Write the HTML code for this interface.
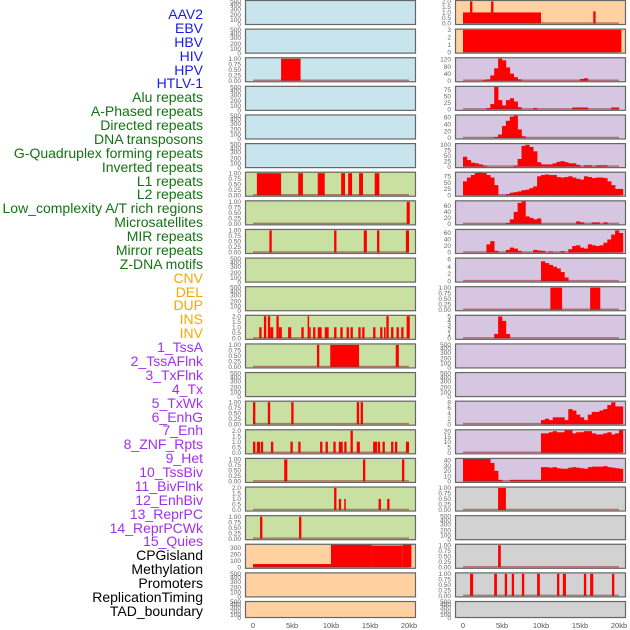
<!DOCTYPE html>
<html><head><meta charset="utf-8"><style>
body{margin:0;width:630px;height:630px;overflow:hidden;background:#fff;font-family:"Liberation Sans",sans-serif}
#lbls{position:absolute;left:0;top:0;width:203px}
.lb{position:absolute;right:0;font-size:14px;line-height:14px;white-space:nowrap;transform:translateY(-50%)}
svg{position:absolute;left:0;top:0}
</style></head><body>
<div id="lbls"></div>
<svg id="chart" width="630" height="630"></svg>
<script>
const labels=["AAV2","EBV","HBV","HIV","HPV","HTLV-1","Alu repeats","A-Phased repeats","Directed repeats","DNA transposons","G-Quadruplex forming repeats","Inverted repeats","L1 repeats","L2 repeats","Low_complexity A/T rich regions","Microsatellites","MIR repeats","Mirror repeats","Z-DNA motifs","CNV","DEL","DUP","INS","INV","1_TssA","2_TssAFlnk","3_TxFlnk","4_Tx","5_TxWk","6_EnhG","7_Enh","8_ZNF_Rpts","9_Het","10_TssBiv","11_BivFlnk","12_EnhBiv","13_ReprPC","14_ReprPCWk","15_Quies","CPGisland","Methylation","Promoters","ReplicationTiming","TAD_boundary"];
const labelGroups=[6,13,5,15,5];
const groupColors=["#1a1aee","#137313","#ffa500","#a030f0","#000000"];
const xTicks=[0,5,10,15,20];
const xTickLabels=["0","5kb","10kb","15kb","20kb"];

// segment data [startKb, endKb, value]
const segL2=[[3.6,6.1,1]];
const segL6=[[0.5,3.6,1],[5.8,6.4,1],[8.3,9.2,1],[11.3,11.8,1],[12.2,12.7,1],[13.6,14.1,1],[15.6,16.2,1]];
const segL7=[[19.7,20.1,1]];
const segL8=[[2.1,2.4,1],[10.4,10.7,1],[14.2,14.6,1],[15.9,16.2,1],[19.6,20.0,1]];
const segL11=[[0.8,1.1,1],[1.4,1.7,2],[1.9,2.2,2],[2.2,2.6,1],[3.0,3.3,2],[3.3,3.7,1],[4.5,4.9,1],[6.2,6.5,1],[7.0,7.2,2],[7.2,7.4,1],[7.7,8.0,1],[8.3,8.8,1],[9.2,9.7,1],[10.4,10.7,1],[11.2,11.5,1],[12.0,12.3,1],[12.5,12.8,1],[13.5,13.8,1],[14.0,14.3,1],[15.4,15.7,1],[16.3,16.6,1],[16.8,17.0,1],[17.1,17.4,2],[17.7,18.0,1],[18.4,18.7,1],[19.0,19.3,1],[19.7,20.1,2]];
const segL12=[[8.2,8.5,1],[9.9,13.6,1],[18.3,18.7,1]];
const segL14=[[0,0.3,1],[1.9,2.2,1],[4.9,5.2,1],[13.3,13.6,1],[13.8,14.1,1]];
const segL15=[[0,0.3,1],[0.5,0.9,1],[1.0,1.3,1],[2.3,2.6,1],[4.8,5.1,1],[5.8,6.1,1],[8.6,8.9,1],[9.3,9.6,1],[10.3,10.6,1],[11.0,11.5,1],[11.7,12.0,1],[12.5,12.8,2],[13.3,13.7,1],[15.4,15.9,1],[16.0,16.3,1],[16.6,16.9,1],[17.7,18.0,1],[18.2,18.5,1],[19.6,20.0,1]];
const segL16=[[4.0,4.4,1],[14.1,14.4,1],[19.1,19.4,1]];
const segL17=[[10.4,10.7,2],[11.0,11.3,1],[11.7,11.9,1],[16.1,16.4,1],[17.2,17.5,1]];
const segL18=[[0.9,1.2,1],[5.9,6.2,1]];
const segL19=[[0,10,50],[10,15.2,350],[15.2,19.2,335],[19.2,20.3,350]];
const segR0=[[0,10,1],[0.9,1.2,2],[3.6,3.9,2],[16.7,17.0,1.1]];
const segR1=[[0,20.3,3]];
const segR10=[[11.2,12.7,1],[16.3,17.6,1]];
const segR17=[[4.5,5.5,1]];
const segR19=[[4.5,4.85,1]];
const segR20=[[0.9,1.3,1],[4.0,4.35,1],[5.35,5.65,1],[6.25,6.55,1],[7.55,7.85,1],[9.5,9.85,1],[12.05,12.35,1],[12.8,13.2,1],[15.5,15.8,1],[16.3,16.7,1],[19.1,19.4,1]];
// binned data (0.5 kb bins from 0 to 20.5 kb)
const binsR2=[0,0,0,0,0,5,8,30,70,125,115,75,40,20,8,0,0,0,0,0,0,0,0,0,0,0,0,0,0,0,10,14,0,0,0,0,0,0,0,0,0];
const binsR3=[0,0,0,0,0,0,5,20,85,35,15,35,42,30,8,0,0,0,5,0,0,0,0,0,0,0,0,0,7,7,7,7,0,0,0,0,0,0,7,7,0];
const binsR4=[0,0,0,0,0,0,0,0,3,10,35,50,62,65,25,5,0,0,0,0,0,0,0,0,0,0,0,0,0,0,0,0,0,0,0,0,0,0,0,0,0];
const binsR5=[45,30,18,15,10,5,0,0,0,0,0,0,0,5,35,95,100,90,70,20,10,10,10,15,22,25,20,15,15,8,0,6,6,0,6,6,6,0,0,0,0];
const binsR6=[55,70,80,88,90,88,80,70,40,0,0,5,10,12,15,20,22,28,35,75,80,82,80,80,72,70,72,75,70,65,62,75,72,68,70,70,68,55,40,25,25];
const binsR7=[0,0,0,0,0,0,0,0,0,0,0,3,15,40,70,75,25,20,15,18,0,0,0,0,0,0,0,0,0,8,5,0,0,5,5,0,5,0,0,0,0];
const binsR8=[0,0,0,0,0,0,25,35,5,0,0,8,15,12,5,0,0,0,8,6,5,0,3,0,0,4,0,10,20,22,15,12,25,22,20,22,30,40,55,68,60];
const binsR9=[0,0,0,0,0,0,0,0,0,0,0,0,0,0,0,0,0,0,0,0,5.5,5,4.5,4,3.5,2.5,1,0,0,0,0,0,0,0,0,0,0,0,0,0,0];
const binsR11=[0,0,0,0,0,0,0,0,1,5,4,1,0,0,0,0,0,0,0,0,0,0,0,0,0,0,0,0,0,0,0,0,0,0,0,0,0,0,0,0,0];
const binsR14=[0,0,0,0,0,0,0,0,0,0,0,0,0,0,0,0,0,0,0,0,1.5,2,1.5,2.5,2.5,2.5,1.5,5.5,5,3.5,2.5,1.5,3.5,4.5,4.5,5,5.5,7,8,6.5,6.5];
const binsR15=[0,0,0,0,0,0,0,0,0,0,0,0,0,0,0,0,0,0,0,0,18,18,19,20,19,19,21,21,18,19,19,20,20,18,17,17,18,19,17,18,21];
const binsR16=[43,43,43,43,43,43,43,35,20,3,0,0,3,3,3,3,3,3,3,3,27,27,26,27,25,24,24,26,27,26,25,24,27,28,28,28,29,27,26,25,24];

const C={b:"#c8e4ec",g:"#c8e0a2",o:"#ffd1a0",p:"#d6c6e2",y:"#d2d2d2"};
const T={
 e:{t:[0,100,200,300,400,500],max:500,custom:[0.02,0.2,0.4,0.63,0.8,0.95]},
 u:{t:[0,0.25,0.5,0.75,1],f:v=>v.toFixed(2),max:1.03},
 two:{t:[0,0.5,1,1.5,2],f:v=>v.toFixed(1),max:2.05}
};
// panels: [col,row,bg,tickSpec,dataName,data,isBins]
const panels=[
 [0,0,"b","e","aav2",null],[0,1,"b","e","ebv",null],[0,2,"b","u","hiv",segL2],[0,3,"b","e","hbv",null],[0,4,"b","e","hpv",null],[0,5,"b","e","htlv",null],
 [0,6,"g","u","l1",segL6],[0,7,"g","u","g7",segL7],[0,8,"g","u","g8",segL8],[0,9,"g","e","g9",null],[0,10,"g","e","g10",null],[0,11,"g","two","g11",segL11],
 [0,12,"g","u","g12",segL12],[0,13,"g","e","g13",null],[0,14,"g","u","g14",segL14],[0,15,"g","two","g15",segL15],[0,16,"g","u","g16",segL16],[0,17,"g","two","g17",segL17],
 [0,18,"g","u","g18",segL18],[0,19,"o",{t:[0,100,200,300],max:350},"o19",segL19],[0,20,"o","e","o20",null],[0,21,"o","e","o21",null],
 [1,0,"o",{t:[0,0.5,1,1.5,2],f:v=>v.toFixed(1),max:2.05},"r0",segR0],[1,1,"o",{t:[0,1,2,3],max:3.05},"r1",segR1],
 [1,2,"p",{t:[0,40,80,120],max:128},"r2",binsR2,1],[1,3,"p",{t:[0,25,50,75],max:86},"r3",binsR3,1],[1,4,"p",{t:[0,20,40,60],max:66},"r4",binsR4,1],
 [1,5,"p",{t:[0,25,50,75,100],max:104},"r5",binsR5,1],[1,6,"p",{t:[0,25,50,75],max:90},"r6",binsR6,1],[1,7,"p",{t:[0,20,40,60],max:76},"r7",binsR7,1],
 [1,8,"p",{t:[0,20,40,60],max:70},"r8",binsR8,1],[1,9,"p",{t:[0,2,4,6],max:6.3},"r9",binsR9,1],[1,10,"p","u","r10",segR10],[1,11,"p",{t:[0,1,2,3,4,5],max:5.2},"r11",binsR11,1],
 [1,12,"p","e","r12",null],[1,13,"p","e","r13",null],[1,14,"p",{t:[0,2,4,6,8],max:8.3},"r14",binsR14,1],[1,15,"p",{t:[0,5,10,15,20],max:21},"r15",binsR15,1],
 [1,16,"p",{t:[0,10,20,30,40],max:43},"r16",binsR16,1],[1,17,"y","u","r17",segR17],[1,18,"y","e","r18",null],[1,19,"y","u","r19",segR19],[1,20,"y","u","r20",segR20],[1,21,"y","e","r21",null]
];

const NS="http://www.w3.org/2000/svg";
const svg=document.getElementById("chart");
function mk(tag,attrs,parent){const e=document.createElementNS(NS,tag);for(const k in attrs)e.setAttribute(k,attrs[k]);(parent||svg).appendChild(e);return e;}

// labels
const lb=document.getElementById("lbls");
let gi=0,cnt=0;
labels.forEach((t,j)=>{
  while(cnt>=labelGroups[gi]){cnt-=labelGroups[gi];gi++;}
  cnt++;
  const d=document.createElement("div");d.className="lb";d.textContent=t;
  d.style.top=(14+j*13.88)+"px";d.style.color=groupColors[gi];
  
  
  lb.appendChild(d);
});

const colX=[245,455],PW=171;
function xs(col,kb){return colX[col]+8+kb*7.8;}
panels.forEach(p=>{
  const [col,row,bg,ts,name,data,isBins]=p;
  const spec=typeof ts==="string"?T[ts]:ts;
  const top=row*28.62, h=row===21?17:25, bot=top+h;
  const y0=bot-1.5, y1=top+0.8;
  const ys=v=>y0-(Math.min(v,spec.max)/spec.max)*(y0-y1);
  const g=mk("g",{});
  
  
  const r=mk("rect",{x:colX[col],y:top,width:PW,height:h,fill:C[bg]},g);
  
  
  // ticks
  spec.t.forEach((v,i)=>{
    const y=spec.custom?bot-spec.custom[i]*h:ys(v);
    const tx=mk("text",{x:colX[col]-4,y:y+2.2,"font-size":"6.5","text-anchor":"end",fill:"#666"},g);
    tx.textContent=spec.f?spec.f(v):String(v);
    
    
  });
  if(data){
    if(isBins){
      data.forEach((v,k)=>{
        if(v<=0)return;
        const b=mk("rect",{x:xs(col,k*0.5),y:ys(v),width:7.8*0.5+0.3,height:y0-ys(v),fill:"#ff0000"},g);
        
        
      });
    }else{
      data.forEach(s=>{
        const b=mk("rect",{x:xs(col,s[0]),y:ys(s[2]),width:(s[1]-s[0])*7.8,height:y0-ys(s[2]),fill:"#ff0000"},g);
        
        
      });
    }
    const bl=mk("line",{x1:xs(col,0),x2:xs(col,20),y1:y0-0.5,y2:y0-0.5,stroke:"rgba(150,40,40,0.55)","stroke-width":1.5},g);
    
    
  }
  const br=mk("rect",{x:colX[col]+0.5,y:top+0.5,width:PW-1,height:h-1,fill:"none",stroke:"#666","stroke-width":1.2},g);
  
  
});
// x axis labels
[0,1].forEach(col=>{
  xTicks.forEach((v,i)=>{
    const t=mk("text",{x:xs(col,v),y:628,"font-size":"7.5","text-anchor":"middle",fill:"#555"});
    t.textContent=xTickLabels[i];
    
    
  });
});
</script>
</body></html>
